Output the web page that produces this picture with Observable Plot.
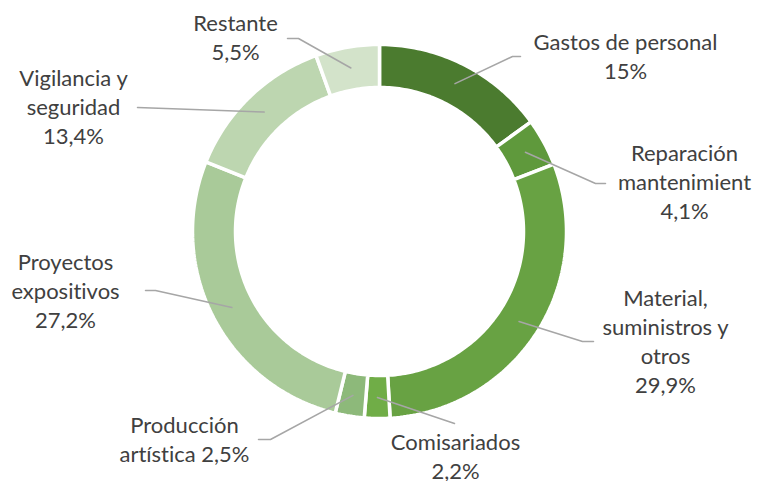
<!DOCTYPE html>
<html>
<head>
<meta charset="utf-8">
<script src="https://cdn.jsdelivr.net/npm/d3@7"></script>
<script src="https://cdn.jsdelivr.net/npm/@observablehq/plot@0.6"></script>
<style>
  html, body { margin: 0; padding: 0; background: #ffffff; }
  #chart svg { display: block; }
  #chart svg text { font-variant-ligatures: none; font-feature-settings: "liga" 0, "clig" 0; }
</style>
</head>
<body>
<div id="chart"></div>
<script>
// ---- data ----
const categories = [
  "Gastos de personal",
  "Reparación mantenimient",
  "Material, suministros y otros",
  "Comisariados",
  "Producción artística",
  "Proyectos expositivos",
  "Vigilancia y seguridad",
  "Restante"
];
const values = [15, 4.1, 29.9, 2.2, 2.5, 27.2, 13.4, 5.5];
const valueLabels = ["15%", "4,1%", "29,9%", "2,2%", "2,5%", "27,2%", "13,4%", "5,5%"];
// label text as wrapped in the reference
const labelLines = [
  ["Gastos de personal", "15%"],
  ["Reparación", "mantenimient", "4,1%"],
  ["Material,", "suministros y", "otros", "29,9%"],
  ["Comisariados", "2,2%"],
  ["Producción", "artística 2,5%"],
  ["Proyectos", "expositivos", "27,2%"],
  ["Vigilancia y", "seguridad", "13,4%"],
  ["Restante", "5,5%"]
];
const colors = ["#4b7b2f", "#5f993c", "#68a243", "#70ad47", "#8db97a", "#a9ca99", "#bdd6b0", "#d3e3ca"];

// ---- layout (pixels) ----
const W = 757, H = 481;
const cx = 379, cy = 231, R = 187, r = 144;
const leaderR = 166;
// label anchor: center x, first line center y ; leader elbow and end
const labelPos = [
  {x: 625, y: 43},
  {x: 684, y: 154},
  {x: 665, y: 299},
  {x: 455, y: 443},
  {x: 184, y: 426},
  {x: 65,  y: 263},
  {x: 73,  y: 79},
  {x: 235, y: 24}
];
const leaderPath = [
  [[512, 56], [520, 56]],
  [[595, 183], [605, 183]],
  [[582, 341], [593, 341]],
  [[454, 423]],
  [[270, 439], [258, 439]],
  [[155, 290], [145, 290]],
  [[137, 107]],
  [[298, 38], [287, 38]]
];
const lineGap = 29;
const fontSize = 22;
const textShift = -3;

// ---- build geometry in unit coordinates ----
const total = d3.sum(values);
const toUx = px => (px - cx) / R;
const toUy = py => (py - cy) / R;
const slicePts = [];
const leaders = [];
const labels = [];
let acc = 0;
values.forEach((v, i) => {
  const a0 = acc / total * 2 * Math.PI;
  acc += v;
  const a1 = acc / total * 2 * Math.PI;
  const n = Math.max(8, Math.ceil((a1 - a0) / (Math.PI / 180)));
  const pts = [];
  for (let k = 0; k <= n; k++) {
    const a = a0 + (a1 - a0) * k / n;
    pts.push([Math.sin(a), -Math.cos(a)]);
  }
  for (let k = n; k >= 0; k--) {
    const a = a0 + (a1 - a0) * k / n;
    pts.push([Math.sin(a) * r / R, -Math.cos(a) * r / R]);
  }
  pts.push(pts[0]);
  pts.forEach(([x, y]) => slicePts.push({cat: categories[i], x, y}));

  const am = (a0 + a1) / 2;
  const lp = [[Math.sin(am) * leaderR / R, -Math.cos(am) * leaderR / R]]
    .concat(leaderPath[i].map(([px, py]) => [toUx(px), toUy(py)]));
  lp.forEach(([x, y]) => leaders.push({cat: categories[i], x, y}));

  const lines = labelLines[i];
  labels.push({
    cat: categories[i],
    text: lines.join("\n"),
    x: toUx(labelPos[i].x),
    y: toUy(labelPos[i].y + textShift + (lines.length - 1) * lineGap / 2)
  });
});

const chart = Plot.plot({
  width: W,
  height: H,
  margin: 0,
  style: {background: "#ffffff", fontFamily: "Lato, 'Open Sans', sans-serif"},
  x: {domain: [toUx(0), toUx(W)], range: [0, W], axis: null},
  y: {domain: [toUy(0), toUy(H)], range: [0, H], axis: null},
  color: {domain: categories, range: colors, legend: false},
  marks: [
    Plot.line(slicePts, {
      x: "x", y: "y", z: "cat",
      fill: "cat", stroke: "#ffffff", strokeWidth: 3.5,
      strokeLinejoin: "miter", curve: "linear"
    }),
    Plot.line(leaders, {
      x: "x", y: "y", z: "cat",
      stroke: "#a6a6a6", strokeWidth: 1.5, curve: "linear"
    }),
    Plot.text(labels, {
      x: "x", y: "y", text: "text",
      textAnchor: "middle", lineAnchor: "middle",
      lineHeight: lineGap / fontSize,
      fontSize: fontSize, fill: "#404040"
    })
  ]
});
document.getElementById("chart").appendChild(chart);
</script>
</body>
</html>
